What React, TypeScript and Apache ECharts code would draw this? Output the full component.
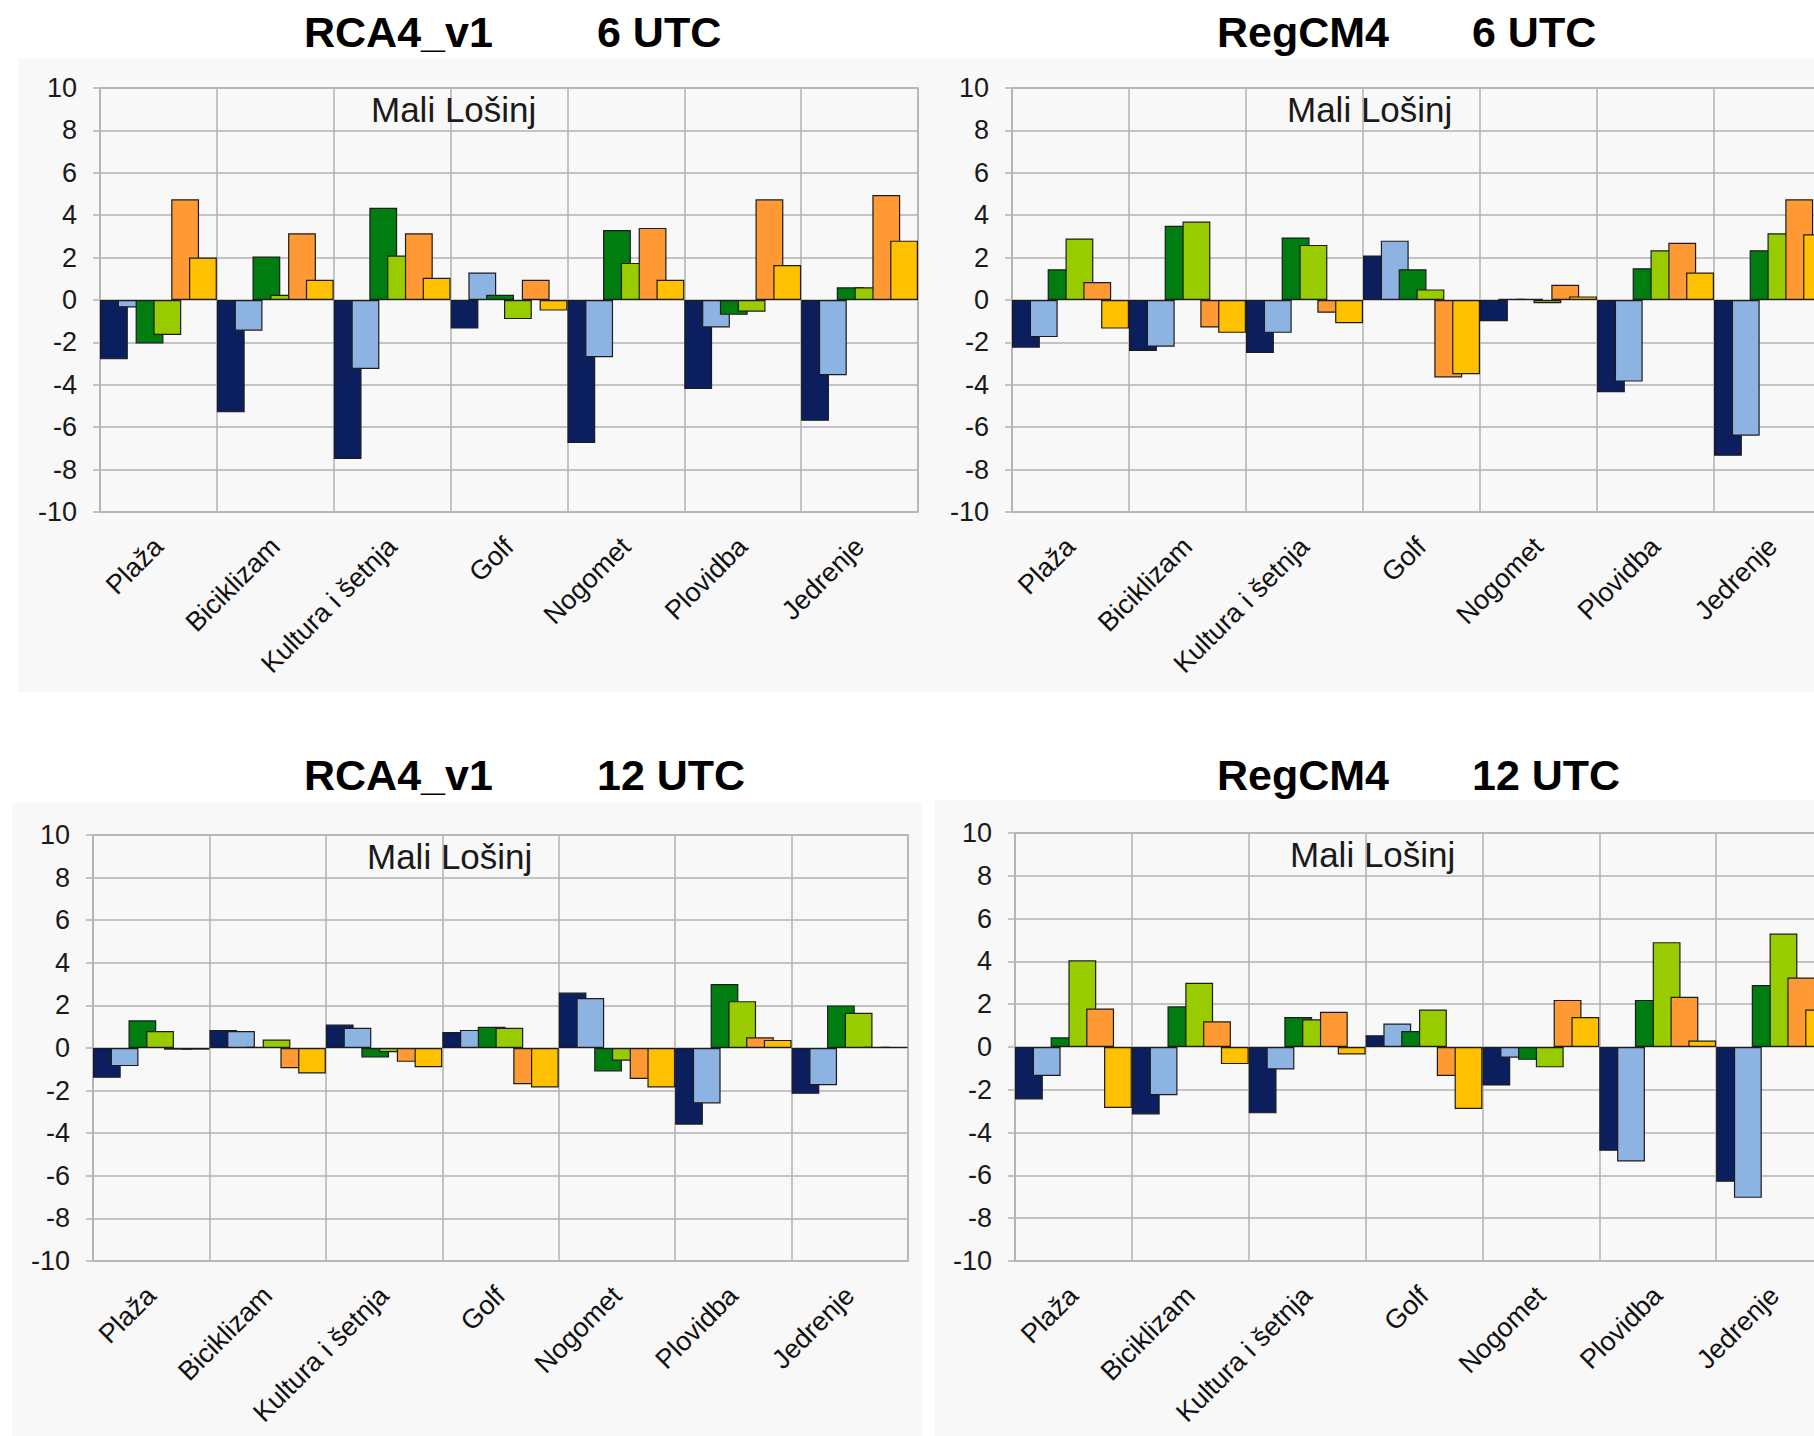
import React, { useEffect, useRef } from "react";
import * as echarts from "echarts";

const categories = ["Plaža", "Biciklizam", "Kultura i šetnja", "Golf", "Nogomet", "Plovidba", "Jedrenje"];
const yTicks = { min: -10, max: 10, interval: 2 };

const seriesNames = ["Niz 1", "Niz 2", "Niz 3", "Niz 4", "Niz 5", "Niz 6"];
const seriesColors = ["#0b1f5e", "#8db3e2", "#007d10", "#99cc00", "#ff9933", "#ffc000"];

// RCA4_v1, 6 UTC
const rca4_6utc = [
  [-2.8, -5.3, -7.5, -1.35, -6.75, -4.2, -5.7],
  [-0.35, -1.45, -3.25, 1.3, -2.7, -1.3, -3.55],
  [-2.05, 2.05, 4.35, 0.25, 3.3, -0.7, 0.6],
  [-1.65, 0.25, 2.1, -0.9, 1.75, -0.55, 0.6],
  [4.75, 3.15, 3.15, 0.95, 3.4, 4.75, 4.95],
  [2.0, 0.95, 1.05, -0.5, 0.95, 1.65, 2.8],
];

// RegCM4, 6 UTC
const regcm4_6utc = [
  [-2.25, -2.4, -2.5, 2.1, -1.0, -4.35, -7.35],
  [-1.75, -2.2, -1.55, 2.8, 0.05, -3.85, -6.4],
  [1.45, 3.5, 2.95, 1.45, 0.05, 1.5, 2.35],
  [2.9, 3.7, 2.6, 0.5, -0.15, 2.35, 3.15],
  [0.85, -1.3, -0.6, -3.65, 0.72, 2.7, 4.75],
  [-1.35, -1.55, -1.1, -3.5, 0.17, 1.3, 3.1],
];

// RCA4_v1, 12 UTC
const rca4_12utc = [
  [-1.4, 0.85, 1.1, 0.75, 2.6, -3.6, -2.15],
  [-0.85, 0.8, 0.95, 0.85, 2.35, -2.6, -1.75],
  [1.3, 0.05, -0.45, 1.0, -1.1, 3.0, 2.0],
  [0.8, 0.4, -0.2, 0.95, -0.6, 2.2, 1.65],
  [-0.08, -0.95, -0.65, -1.7, -1.45, 0.5, 0.05],
  [-0.08, -1.2, -0.9, -1.85, -1.85, 0.38, 0.05],
];

// RegCM4, 12 UTC
const regcm4_12utc = [
  [-2.45, -3.15, -3.1, 0.55, -1.8, -4.85, -6.3],
  [-1.35, -2.25, -1.05, 1.1, -0.5, -5.35, -7.05],
  [0.45, 1.9, 1.4, 0.75, -0.6, 2.2, 2.9],
  [4.05, 3.0, 1.3, 1.75, -0.95, 4.9, 5.3],
  [1.8, 1.2, 1.65, -1.35, 2.2, 2.35, 3.25],
  [-2.85, -0.8, -0.35, -2.9, 1.4, 0.3, 1.75],
];

const stationName = "Mali Lošinj";
const panelModels = ["RCA4_v1", "RegCM4", "RCA4_v1", "RegCM4"];
const panelTimes = ["6 UTC", "6 UTC", "12 UTC", "12 UTC"];
const panelData = [rca4_6utc, regcm4_6utc, rca4_12utc, regcm4_12utc];

// layout (pixels)
const grids = [
  { left: 100, top: 88, width: 818, height: 424 },
  { left: 1012, top: 88, width: 819, height: 424 },
  { left: 93, top: 835, width: 815, height: 426 },
  { left: 1015, top: 833, width: 818, height: 428 },
];
const backgrounds = [
  { x: 18, y: 59, width: 1860, height: 633 },
  { x: 12, y: 803, width: 910, height: 640 },
  { x: 935, y: 800, width: 940, height: 643 },
];
const titlePos = [
  { x1: 304, x2: 597, y: 32 },
  { x1: 1217, x2: 1472, y: 32 },
  { x1: 304, x2: 597, y: 775 },
  { x1: 1217, x2: 1472, y: 775 },
];
const subtitlePos = [
  { x: 371, y: 109 },
  { x: 1287, y: 109 },
  { x: 367, y: 856 },
  { x: 1290, y: 854 },
];

const FONT = '"Liberation Sans", Arial, sans-serif';
const GRID_COLOR = "#b3b3b3";

export default function App() {
  const ref = useRef<HTMLDivElement>(null);

  useEffect(() => {
    if (!ref.current) return;
    const chart = echarts.init(ref.current, undefined, { renderer: "svg" });

    const graphic: any[] = [];
    backgrounds.forEach((b) => {
      graphic.push({
        type: "rect",
        z: -100,
        silent: true,
        shape: { x: b.x, y: b.y, width: b.width, height: b.height },
        style: { fill: "#f8f8f8" },
      });
    });
    titlePos.forEach((t, i) => {
      graphic.push({
        type: "text",
        x: t.x1,
        y: t.y,
        style: {
          text: panelModels[i],
          font: `bold 43px ${FONT}`,
          fill: "#000",
          textAlign: "left",
          textVerticalAlign: "middle",
        },
      });
      graphic.push({
        type: "text",
        x: t.x2,
        y: t.y,
        style: {
          text: panelTimes[i],
          font: `bold 43px ${FONT}`,
          fill: "#000",
          textAlign: "left",
          textVerticalAlign: "middle",
        },
      });
    });
    subtitlePos.forEach((s) => {
      graphic.push({
        type: "text",
        x: s.x,
        y: s.y,
        z: 10,
        style: {
          text: stationName,
          font: `35px ${FONT}`,
          fill: "#1a1a1a",
          textAlign: "left",
          textVerticalAlign: "middle",
        },
      });
    });

    const series: any[] = [];
    panelData.forEach((rows, gi) => {
      rows.forEach((vals, si) => {
        series.push({
          type: "bar",
          name: seriesNames[si],
          xAxisIndex: gi,
          yAxisIndex: gi,
          data: vals,
          barGap: "-36%",
          barCategoryGap: "0%",
          itemStyle: {
            color: seriesColors[si],
            borderColor: "#1c1c1c",
            borderWidth: 1.2,
          },
        });
      });
    });

    chart.setOption({
      animation: false,
      graphic,
      grid: grids.map((g) => ({
        ...g,
        show: true,
        backgroundColor: "transparent",
        borderColor: GRID_COLOR,
        borderWidth: 1.5,
      })),
      xAxis: grids.map((_, i) => ({
        type: "category",
        gridIndex: i,
        data: categories,
        axisLine: { show: false },
        axisTick: { show: false },
        splitLine: { show: true, lineStyle: { color: GRID_COLOR, width: 1.5 } },
        axisLabel: {
          interval: 0,
          rotate: 45,
          margin: 30,
          fontSize: 27,
          color: "#111",
          fontFamily: FONT,
        },
      })),
      yAxis: grids.map((_, i) => ({
        type: "value",
        gridIndex: i,
        min: yTicks.min,
        max: yTicks.max,
        interval: yTicks.interval,
        axisLine: { show: true, lineStyle: { color: GRID_COLOR, width: 1.5 } },
        axisTick: { show: true, length: 7, lineStyle: { color: GRID_COLOR, width: 1.5 } },
        splitLine: { show: true, lineStyle: { color: GRID_COLOR, width: 1.5 } },
        axisLabel: {
          margin: 23,
          fontSize: 27,
          color: "#1a1a1a",
          fontFamily: FONT,
        },
      })),
      series,
    });

    return () => chart.dispose();
  }, []);

  return (
    <div
      style={{
        position: "absolute",
        left: 0,
        top: 0,
        width: 1814,
        height: 1436,
        overflow: "hidden",
        background: "#ffffff",
      }}
    >
      <div ref={ref} style={{ width: 1880, height: 1436 }} />
    </div>
  );
}
